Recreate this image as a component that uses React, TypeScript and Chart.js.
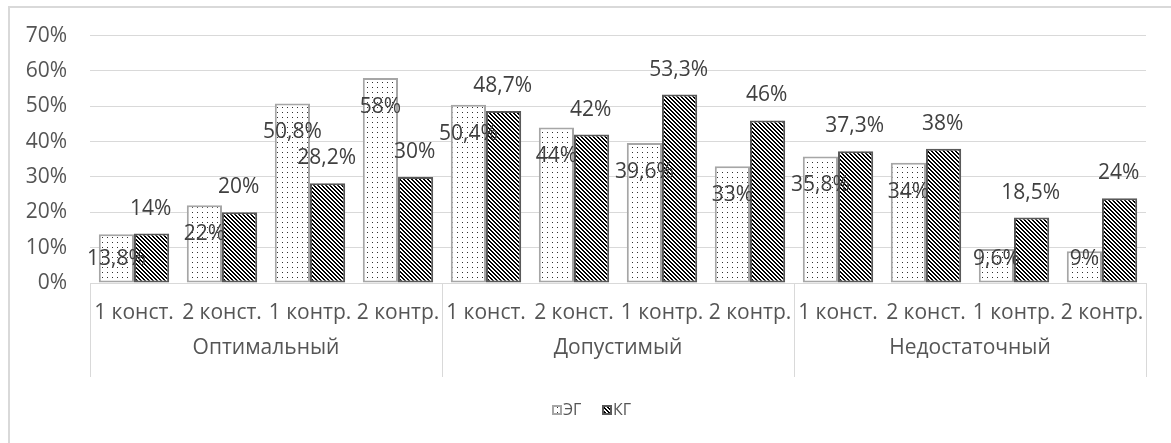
import React, { useEffect, useRef } from "react";
import { Chart, registerables } from "chart.js";

Chart.register(...registerables);

// Level names and the four measurements inside each level
const groups = ["Оптимальный", "Допустимый", "Недостаточный"];
const subLabels = ["1 конст.", "2 конст.", "1 контр.", "2 контр."];
const categories = groups.flatMap(() => subLabels);

// Share of students, %
const egValues = [13.8, 22, 50.8, 58, 50.4, 44, 39.6, 33, 35.8, 34, 9.6, 9];
const kgValues = [14, 20, 28.2, 30, 48.7, 42, 53.3, 46, 37.3, 38, 18.5, 24];

const seriesNames = ["ЭГ", "КГ"];
const yMax = 70;
const yStep = 10;

const FONT = "'Open Sans', 'Noto Sans', sans-serif";
const TEXT = "#555555";
const LABEL = "#404040";
const LINE = "#d9d9d9";

const fmt = (v: number) => String(v).replace(".", ",") + "%";

function dotPattern(ctx: CanvasRenderingContext2D): CanvasPattern {
  const c = document.createElement("canvas");
  c.width = 5;
  c.height = 5;
  const g = c.getContext("2d")!;
  g.fillStyle = "#ffffff";
  g.fillRect(0, 0, 5, 5);
  g.fillStyle = "#303030";
  g.fillRect(2, 2, 1, 1);
  return ctx.createPattern(c, "repeat")!;
}

function stripePattern(ctx: CanvasRenderingContext2D): CanvasPattern {
  const c = document.createElement("canvas");
  c.width = 4;
  c.height = 4;
  const g = c.getContext("2d")!;
  g.fillStyle = "#ffffff";
  g.fillRect(0, 0, 4, 4);
  g.fillStyle = "#000000";
  for (let y = 0; y < 4; y++) {
    for (let x = 0; x < 4; x++) {
      const d = (((x - y) % 4) + 4) % 4;
      if (d === 0 || d === 1) g.fillRect(x, y, 1, 1);
    }
  }
  return ctx.createPattern(c, "repeat")!;
}

export default function App() {
  const ref = useRef<HTMLCanvasElement>(null);

  useEffect(() => {
    const canvas = ref.current!;
    const ctx = canvas.getContext("2d")!;
    const egFill = dotPattern(ctx);
    const kgFill = stripePattern(ctx);
    const egBorder = "#a6a6a6";
    const kgBorder = "#595959";

    const decorations = {
      id: "decorations",
      beforeDraw(chart: any) {
        const c = chart.ctx;
        c.save();
        c.fillStyle = "#ffffff";
        c.fillRect(0, 0, chart.width, chart.height);
        // outer frame (left and top edges)
        c.fillStyle = LINE;
        c.fillRect(8, 6, chart.width - 8, 2);
        c.fillRect(8, 6, 2, chart.height - 6);
        c.restore();
      },
      afterDatasetsDraw(chart: any) {
        const c = chart.ctx;
        const area = chart.chartArea;
        const xs = chart.scales.x;
        c.save();

        // value labels
        c.font = `21px ${FONT}`;
        c.fillStyle = LABEL;
        c.textAlign = "center";
        c.textBaseline = "middle";
        chart.getDatasetMeta(0).data.forEach((bar: any, i: number) => {
          const y = Math.min(bar.y + 29, area.bottom - 24);
          c.fillText(fmt(egValues[i]), bar.x, y);
        });
        chart.getDatasetMeta(1).data.forEach((bar: any, i: number) => {
          c.fillText(fmt(kgValues[i]), bar.x - 1, bar.y - 25);
        });

        // two-level category axis
        const step = (area.right - area.left) / categories.length;
        c.strokeStyle = LINE;
        c.lineWidth = 1;
        c.beginPath();
        for (let g = 0; g <= groups.length; g++) {
          const idx = g * subLabels.length;
          const x =
            idx < categories.length
              ? xs.getPixelForValue(idx) - step / 2
              : xs.getPixelForValue(idx - 1) + step / 2;
          const px = Math.round(x) + 0.5;
          c.moveTo(px, area.bottom);
          c.lineTo(px, area.bottom + 94);
        }
        c.stroke();

        c.font = `21px ${FONT}`;
        c.fillStyle = TEXT;
        categories.forEach((lab, i) => {
          c.fillText(lab, xs.getPixelForValue(i), area.bottom + 30);
        });
        groups.forEach((g, gi) => {
          const a = xs.getPixelForValue(gi * subLabels.length);
          const b = xs.getPixelForValue(gi * subLabels.length + subLabels.length - 1);
          c.fillText(g, (a + b) / 2, area.bottom + 65);
        });

        // legend
        const legendY = area.bottom + 127;
        const items = [
          { name: seriesNames[0], fill: egFill, border: egBorder, x: 552 },
          { name: seriesNames[1], fill: kgFill, border: kgBorder, x: 602 },
        ];
        c.font = `16px ${FONT}`;
        c.textAlign = "left";
        items.forEach((it) => {
          c.fillStyle = it.fill;
          c.fillRect(it.x, legendY - 5, 10, 10);
          c.strokeStyle = it.border;
          c.lineWidth = 2;
          c.strokeRect(it.x + 1, legendY - 4, 8, 8);
          c.fillStyle = TEXT;
          c.fillText(it.name, it.x + 11, legendY);
        });
        c.restore();
      },
    };

    const chart = new Chart(canvas, {
      type: "bar",
      data: {
        labels: categories,
        datasets: [
          {
            label: seriesNames[0],
            data: egValues,
            backgroundColor: egFill,
            borderColor: egBorder,
            borderWidth: 2,
            borderSkipped: false,
            categoryPercentage: 0.8,
            barPercentage: 1,
          },
          {
            label: seriesNames[1],
            data: kgValues,
            backgroundColor: kgFill,
            borderColor: kgBorder,
            borderWidth: 2,
            borderSkipped: false,
            categoryPercentage: 0.8,
            barPercentage: 1,
          },
        ],
      },
      options: {
        responsive: false,
        animation: false,
        layout: { padding: { left: 0, top: 35, right: 25, bottom: 160 } },
        plugins: { legend: { display: false }, tooltip: { enabled: false } },
        scales: {
          x: { display: false },
          y: {
            min: 0,
            max: yMax,
            afterFit: (s: any) => {
              s.width = 90;
            },
            border: { display: false },
            grid: { color: LINE, drawTicks: false },
            ticks: {
              stepSize: yStep,
              padding: 23,
              color: TEXT,
              font: { family: FONT, size: 21 },
              callback: (v: any) => v + "%",
            },
          },
        },
      },
      plugins: [decorations],
    });
    return () => chart.destroy();
  }, []);

  return (
    <div style={{ position: "fixed", left: 0, top: 0, width: 1171, height: 443, background: "#fff" }}>
      <canvas ref={ref} width={1171} height={443} style={{ display: "block" }} />
    </div>
  );
}
